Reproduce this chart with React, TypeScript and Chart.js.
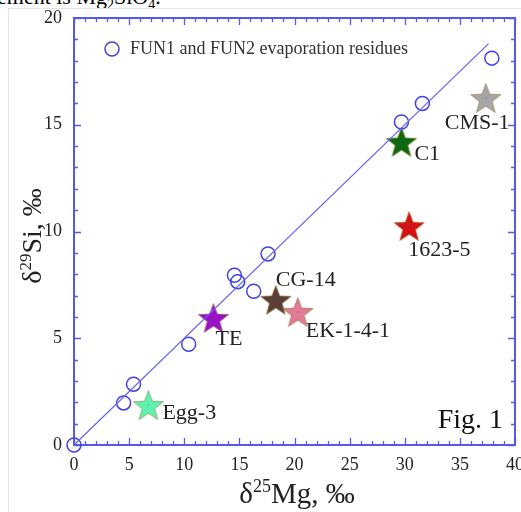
import React, { useEffect, useRef } from 'react';
import { Chart, registerables } from 'chart.js';

Chart.register(...registerables);

// ---- data ----
const funX = [0, 4.5, 5.4, 10.4, 14.55, 14.85, 16.3, 17.6, 29.7, 31.6, 37.9];
const funY = [0, 1.97, 2.85, 4.72, 7.95, 7.65, 7.2, 8.95, 15.13, 16.0, 18.12];
const fitX = [0, 37.6];
const fitY = [0, 18.8];
const starNames = ['Egg-3', 'TE', 'CG-14', 'EK-1-4-1', 'C1', '1623-5', 'CMS-1'];
const starX = [6.75, 12.65, 18.3, 20.3, 29.7, 30.4, 37.35];
const starY = [1.87, 5.95, 6.8, 6.23, 14.2, 10.25, 16.25];
const xTickValues = [0, 5, 10, 15, 20, 25, 30, 35, 40];
const yTickValues = [0, 5, 10, 15, 20];
const legendText = 'FUN1 and FUN2 evaporation residues';
const figText = 'Fig. 1';

// ---- styles ----
const starColors = ['#5ef3b0', '#9a12c8', '#5b3f36', '#e07b93', '#0b6a0f', '#d41212', '#a6a6a6'];
const labelOffsets = [[14, 8], [2, 21], [0, -20], [8, 19], [13, 12], [-1, 24], [-41, 25]];
const SERIF = "'Liberation Serif', 'Times New Roman', serif";
const AXIS = 'rgb(88,88,236)';
const CIRCLE = 'rgb(64,64,228)';
const TEXT = '#222';

function makeStar(color: string, R: number) {
  const size = Math.ceil(R * 2 + 6);
  const c = document.createElement('canvas');
  c.width = size;
  c.height = size;
  const ctx = c.getContext('2d')!;
  const cx = size / 2;
  const cy = size / 2 + 0.095 * R;
  ctx.beginPath();
  for (let i = 0; i < 10; i++) {
    const r = i % 2 === 0 ? R : R * 0.42;
    const a = -Math.PI / 2 + (i * Math.PI) / 5;
    ctx.lineTo(cx + r * Math.cos(a), cy + r * Math.sin(a));
  }
  ctx.closePath();
  ctx.fillStyle = color;
  ctx.fill();
  ctx.strokeStyle = 'rgba(150,110,50,0.55)';
  ctx.lineWidth = 1;
  ctx.stroke();
  ctx.fillStyle = 'rgba(60,60,220,0.8)';
  ctx.fillRect(cx - 0.5, size / 2 - 0.5, 1, 1);
  return c;
}

const decorPlugin = {
  id: 'decor',
  beforeDatasetsDraw(chart: any) {
    const { ctx, chartArea: a, scales } = chart;
    const x = scales.x;
    const y = scales.y;
    ctx.save();
    ctx.strokeStyle = AXIS;
    ctx.lineWidth = 1.3;
    for (let v = 0; v <= 40; v += 1) {
      const len = v % 5 === 0 ? 7 : 4;
      const px = Math.round(x.getPixelForValue(v)) + 0.5;
      ctx.beginPath();
      ctx.moveTo(px, a.bottom);
      ctx.lineTo(px, a.bottom - len);
      ctx.moveTo(px, a.top);
      ctx.lineTo(px, a.top + len);
      ctx.stroke();
    }
    for (let v = 0; v <= 20; v += 1) {
      const len = v % 5 === 0 ? 7 : 4;
      const py = Math.round(y.getPixelForValue(v)) + 0.5;
      ctx.beginPath();
      ctx.moveTo(a.left, py);
      ctx.lineTo(a.left + len, py);
      ctx.moveTo(a.right, py);
      ctx.lineTo(a.right - len, py);
      ctx.stroke();
    }
    ctx.lineWidth = 2;
    ctx.strokeRect(a.left, a.top, a.right - a.left, a.bottom - a.top);
    ctx.restore();
  },
  afterDatasetsDraw(chart: any) {
    const { ctx, chartArea: a, scales } = chart;
    const x = scales.x;
    const y = scales.y;
    ctx.save();
    // tick labels
    ctx.fillStyle = TEXT;
    ctx.font = `18px ${SERIF}`;
    ctx.textAlign = 'center';
    ctx.textBaseline = 'middle';
    x.ticks.forEach((t: any) => {
      ctx.fillText(String(t.value), x.getPixelForValue(t.value), a.bottom + 20);
    });
    ctx.textAlign = 'right';
    y.ticks.forEach((t: any) => {
      ctx.fillText(String(t.value), a.left - 12, y.getPixelForValue(t.value));
    });
    // star labels
    ctx.fillStyle = TEXT;
    ctx.font = `22px ${SERIF}`;
    ctx.textAlign = 'left';
    ctx.textBaseline = 'middle';
    starNames.forEach((n, i) => {
      const px = x.getPixelForValue(starX[i]);
      const py = y.getPixelForValue(starY[i]);
      ctx.fillText(n, px + labelOffsets[i][0], py + labelOffsets[i][1]);
    });
    // legend
    ctx.strokeStyle = CIRCLE;
    ctx.lineWidth = 1.5;
    ctx.beginPath();
    ctx.arc(a.left + 38, a.top + 31, 7, 0, Math.PI * 2);
    ctx.stroke();
    ctx.fillStyle = '#333';
    ctx.font = `18px ${SERIF}`;
    ctx.fillText(legendText, a.left + 56, a.top + 31);
    // Fig. 1
    ctx.fillStyle = '#111';
    ctx.font = `28px ${SERIF}`;
    ctx.textAlign = 'right';
    ctx.textBaseline = 'alphabetic';
    ctx.fillText(figText, a.right - 12, a.bottom - 17);
    // axis titles
    const drawTitle = (pp: any[], cx: number, base: number) => {
      let w = 0;
      pp.forEach((p) => {
        ctx.font = p.f;
        w += ctx.measureText(p.t).width;
      });
      let cur = cx - w / 2;
      ctx.textAlign = 'left';
      ctx.textBaseline = 'alphabetic';
      pp.forEach((p) => {
        ctx.font = p.f;
        ctx.fillText(p.t, cur, base + p.dy);
        cur += ctx.measureText(p.t).width;
      });
    };
    ctx.fillStyle = '#222';
    drawTitle(
      [
        { t: 'δ', f: `29px ${SERIF}`, dy: 0 },
        { t: '25', f: `18px ${SERIF}`, dy: -11 },
        { t: 'Mg, ‰', f: `29px ${SERIF}`, dy: 0 },
      ],
      297,
      503
    );
    ctx.save();
    ctx.translate(41, 236);
    ctx.rotate(-Math.PI / 2);
    drawTitle(
      [
        { t: 'δ', f: `28px ${SERIF}`, dy: 0 },
        { t: '29', f: `17px ${SERIF}`, dy: -10 },
        { t: 'Si, ‰', f: `28px ${SERIF}`, dy: 0 },
      ],
      0,
      0
    );
    ctx.restore();
    ctx.restore();
  },
};

export default function App() {
  const ref = useRef<HTMLCanvasElement>(null);
  useEffect(() => {
    const canvas = ref.current!;
    const starData = starNames.map((n, i) => ({
      type: 'scatter' as const,
      label: n,
      data: [{ x: starX[i], y: starY[i] }],
      pointStyle: makeStar(starColors[i], 16) as any,
      pointRadius: 16,
      clip: false as any,
    }));
    const chart = new Chart(canvas, {
      type: 'scatter',
      data: {
        datasets: [
          {
            type: 'line',
            label: 'fit',
            data: fitX.map((v, i) => ({ x: v, y: fitY[i] })),
            borderColor: 'rgb(100,100,240)',
            borderWidth: 1.2,
            pointRadius: 0,
            fill: false,
            clip: false as any,
          } as any,
          {
            type: 'scatter',
            label: legendText,
            data: funX.map((v, i) => ({ x: v, y: funY[i] })),
            pointStyle: 'circle',
            pointRadius: 7,
            borderColor: CIRCLE,
            borderWidth: 1.5,
            backgroundColor: 'rgba(0,0,0,0)',
            clip: false as any,
          },
          ...starData,
        ],
      },
      options: {
        animation: false,
        responsive: false,
        maintainAspectRatio: false,
        layout: { autoPadding: false, padding: { left: 0, top: 18, right: 6, bottom: 0 } },
        plugins: { legend: { display: false }, tooltip: { enabled: false } },
        scales: {
          x: {
            type: 'linear',
            min: 0,
            max: 40,
            afterBuildTicks: (s: any) => {
              s.ticks = xTickValues.map((v) => ({ value: v }));
            },
            afterFit: (s: any) => {
              s.height = 67;
            },
            grid: { display: false, drawTicks: false },
            border: { display: false },
            ticks: { display: false },
          },
          y: {
            type: 'linear',
            min: 0,
            max: 20,
            afterBuildTicks: (s: any) => {
              s.ticks = yTickValues.map((v) => ({ value: v }));
            },
            afterFit: (s: any) => {
              s.width = 74;
            },
            grid: { display: false, drawTicks: false },
            border: { display: false },
            ticks: { display: false },
          },
        },
      },
      plugins: [decorPlugin],
    });
    return () => chart.destroy();
  }, []);
  return (
    <div
      style={{
        position: 'fixed',
        left: 0,
        top: 0,
        width: 521,
        height: 512,
        overflow: 'hidden',
        background: '#fff',
      }}
    >
      <div
        style={{
          position: 'absolute',
          left: -3,
          top: -14,
          fontFamily: SERIF,
          fontSize: 22,
          lineHeight: '22px',
          whiteSpace: 'nowrap',
          color: '#000',
        }}
      >
        ement is Mg<sub style={{ fontSize: 14 }}>2</sub>SiO<sub style={{ fontSize: 14 }}>4</sub>.
      </div>
      <div
        style={{
          position: 'absolute',
          left: 8,
          top: 8,
          right: 0,
          bottom: 0,
          borderTop: '1px solid #e4e4e4',
          borderLeft: '1px solid #e4e4e4',
        }}
      />
      <canvas
        ref={ref}
        width={521}
        height={512}
        style={{ position: 'absolute', left: 0, top: 0, width: 521, height: 512 }}
      />
    </div>
  );
}
